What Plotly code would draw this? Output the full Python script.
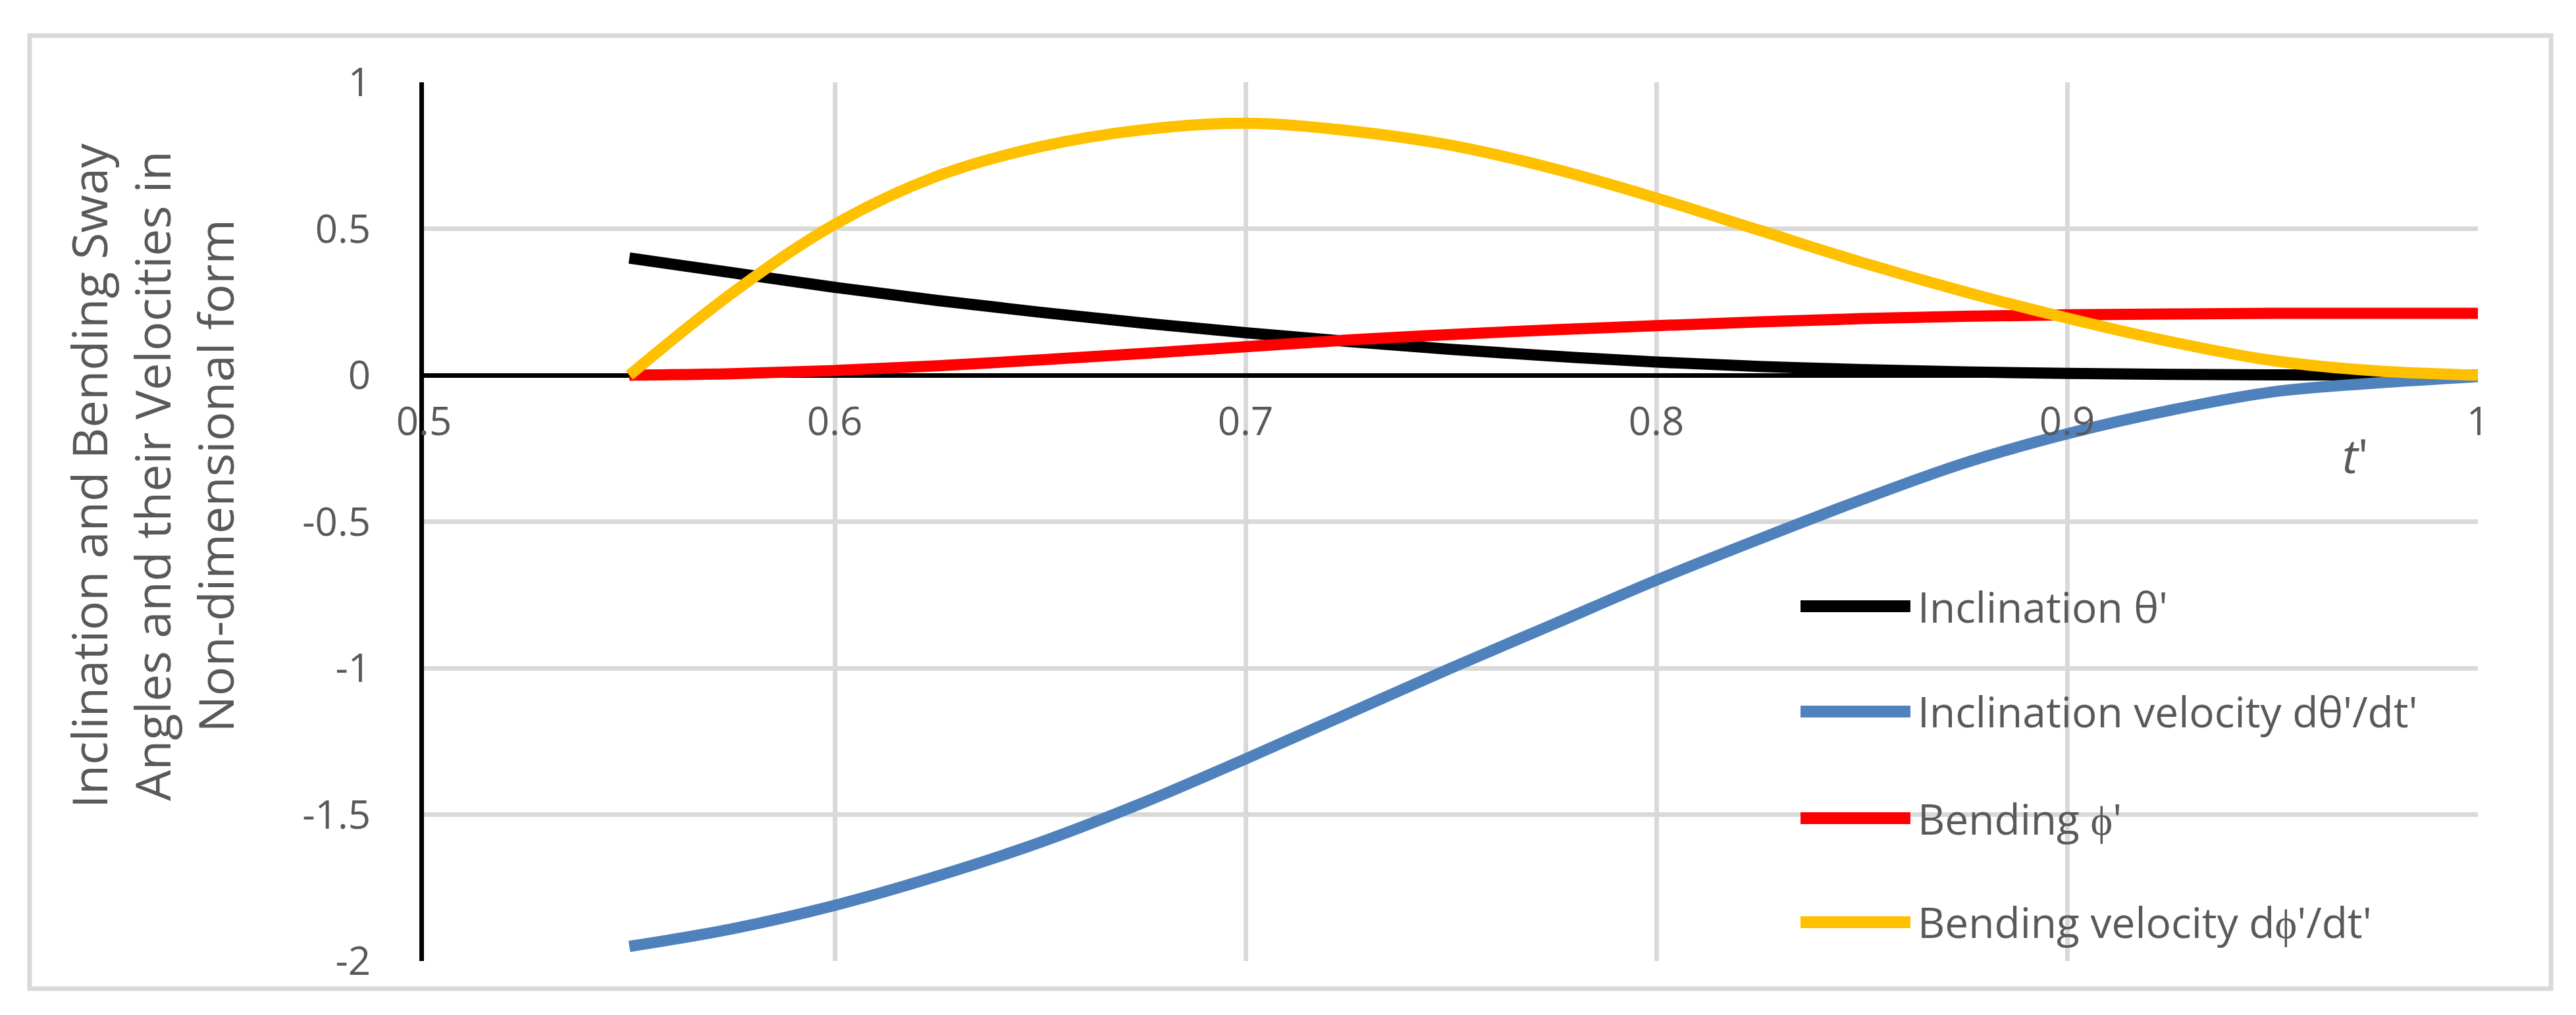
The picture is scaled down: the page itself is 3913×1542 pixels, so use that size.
import plotly.graph_objects as go

# dimensionless time t'
t = [0.55, 0.575, 0.60, 0.625, 0.65, 0.675, 0.70, 0.725, 0.75, 0.775,
     0.80, 0.825, 0.85, 0.875, 0.90, 0.925, 0.95, 0.975, 1.0]

# values
theta = [0.40, 0.35, 0.30, 0.255, 0.215, 0.178, 0.145, 0.115, 0.088, 0.065,
         0.045, 0.030, 0.019, 0.011, 0.006, 0.003, 0.001, 0.0, 0.0]
dtheta = [-1.95, -1.89, -1.81, -1.71, -1.595, -1.46, -1.31, -1.155, -1.0, -0.85,
          -0.70, -0.56, -0.425, -0.30, -0.20, -0.12, -0.057, -0.027, -0.005]
phi = [0.0, 0.005, 0.016, 0.032, 0.052, 0.074, 0.097, 0.12, 0.139, 0.155,
       0.169, 0.182, 0.193, 0.201, 0.206, 0.209, 0.211, 0.211, 0.211]
dphi = [0.0, 0.28, 0.515, 0.68, 0.78, 0.838, 0.860, 0.835, 0.785, 0.705,
        0.605, 0.495, 0.385, 0.285, 0.195, 0.115, 0.05, 0.015, 0.0]

names = ["Inclination θ'", "Inclination velocity dθ'/dt'", "Bending ϕ'", "Bending velocity dϕ'/dt'"]
colors = ['#000000', '#4f81bd', '#ff0000', '#ffc000']
series = [theta, dtheta, phi, dphi]

x_ticks = [0.5, 0.6, 0.7, 0.8, 0.9, 1.0]
x_labels = ['0.5', '0.6', '0.7', '0.8', '0.9', '1']
y_ticks = [-2, -1.5, -1, -0.5, 0, 0.5, 1]
y_labels = ['-2', '-1.5', '-1', '-0.5', '0', '0.5', '1']

FONT = 'Open Sans'
GREY = '#595959'
GRID = '#d9d9d9'

fig = go.Figure()
for name, ys, c in zip(names, series, colors):
    fig.add_trace(go.Scatter(x=t, y=ys, name=name, mode='lines',
                             line=dict(color=c, width=17, shape='spline', smoothing=1.0)))

fig.update_layout(
    width=3913, height=1542,
    margin=dict(l=636, r=157, t=117, b=90),
    paper_bgcolor='white', plot_bgcolor='white',
    showlegend=False,
    font=dict(family=FONT, color=GREY, size=60),
    xaxis=dict(range=[0.5, 1.0], tickvals=x_ticks, ticktext=x_labels,
               anchor='free', position=2 / 3, showline=False, zeroline=False,
               showgrid=True, gridcolor=GRID, gridwidth=7,
               ticks='', ticklabelstandoff=30,
               tickfont=dict(family=FONT, size=60, color=GREY)),
    yaxis=dict(range=[-2, 1], tickvals=y_ticks, ticktext=y_labels,
               showline=True, linecolor='black', linewidth=7,
               zeroline=True, zerolinecolor='black', zerolinewidth=7,
               showgrid=True, gridcolor=GRID, gridwidth=7,
               ticks='', ticklabelstandoff=62,
               tickfont=dict(family=FONT, size=60, color=GREY)),
)

# outer chart border
fig.add_shape(type='rect', xref='paper', yref='paper',
              x0=-0.192, x1=1.0356, y0=-0.0315, y1=1.0532,
              line=dict(color=GRID, width=7), layer='below')

# y-axis title
fig.add_annotation(xref='paper', yref='paper', x=-0.1327, y=0.5528,
                   text='Inclination and Bending Sway<br>Angles and their Velocities in<br>Non-dimensional form',
                   textangle=-90, showarrow=False, xanchor='center', yanchor='middle',
                   font=dict(family=FONT, size=74, color=GREY))

# x-axis title
fig.add_annotation(xref='paper', yref='paper', x=0.9404, y=0.576,
                   text="<i>t</i>'", showarrow=False, xanchor='center', yanchor='middle',
                   font=dict(family=FONT, size=72, color=GREY))

# legend drawn by hand so the keys are long like the original
legend_y = [0.4037, 0.2839, 0.1625, 0.0442]
for name, c, ly in zip(names, colors, legend_y):
    fig.add_shape(type='line', xref='paper', yref='paper',
                  x0=0.6702, x1=0.7237, y0=ly, y1=ly,
                  line=dict(color=c, width=18))
    fig.add_annotation(xref='paper', yref='paper', x=0.7266, y=ly, text=name,
                       showarrow=False, xanchor='left', yanchor='middle',
                       font=dict(family=FONT, size=64, color=GREY))

fig.write_html("out.html")
